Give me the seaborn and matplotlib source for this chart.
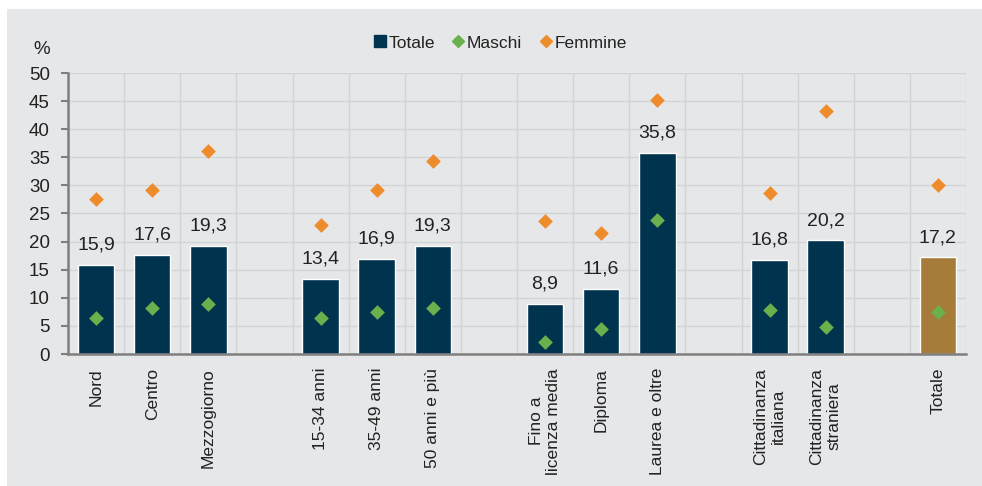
import matplotlib
matplotlib.use("Agg")
import matplotlib.pyplot as plt
import matplotlib.patches as mpatches
from matplotlib.lines import Line2D
import seaborn as sns
import pandas as pd
import numpy as np

# ---- data ----
categories = ["Nord", "Centro", "Mezzogiorno",
              "15-34 anni", "35-49 anni", "50 anni e più",
              "Fino a\nlicenza media", "Diploma", "Laurea e oltre",
              "Cittadinanza\nitaliana", "Cittadinanza\nstraniera",
              "Totale"]
totale = [15.9, 17.6, 19.3, 13.4, 16.9, 19.3, 8.9, 11.6, 35.8, 16.8, 20.2, 17.2]
maschi = [6.4, 8.2, 8.9, 6.4, 7.5, 8.2, 2.1, 4.4, 23.8, 7.8, 4.8, 7.5]
femmine = [27.6, 29.2, 36.1, 23.0, 29.2, 34.3, 23.7, 21.5, 45.2, 28.6, 43.2, 30.1]
groups = [3, 3, 3, 2, 1]  # group sizes, separated by empty slots

# build slot order with gaps
order = []
i = 0
for gi, n in enumerate(groups):
    order.extend(categories[i:i + n])
    i += n
    if gi < len(groups) - 1:
        order.append(" " * (gi + 1))
nslots = len(order)

df = pd.DataFrame({"cat": categories, "Totale": totale,
                   "Maschi": maschi, "Femmine": femmine})

NAVY = "#00334e"
GOLD = "#a57c3a"
GREEN = "#6ab04c"
ORANGE = "#ee8c2c"
BG = "#e6e7e9"

sns.set_style("white")
plt.rcParams["font.family"] = ["Liberation Sans Narrow", "Liberation Sans", "DejaVu Sans"]

fig = plt.figure(figsize=(9.82, 4.86), dpi=100)
fig.patch.set_facecolor("white")
fig.patches.append(mpatches.Rectangle((7 / 982, 0), 1, 1 - 9 / 486,
                                      transform=fig.transFigure,
                                      facecolor=BG, edgecolor="none", zorder=-10))
ax = fig.add_axes([68 / 982, 1 - 354 / 486, (966 - 68) / 982, (354 - 73) / 486])
ax.set_facecolor(BG)

palette = {c: (GOLD if c == "Totale" else NAVY) for c in categories}
sns.barplot(data=df, x="cat", y="Totale", order=order, hue="cat",
            palette=palette, width=0.65, saturation=1, legend=False,
            ax=ax, zorder=2)
sns.stripplot(data=df, x="cat", y="Maschi", order=order, jitter=False,
              marker="D", color=GREEN, size=7.5, linewidth=0, ax=ax, zorder=3)
sns.stripplot(data=df, x="cat", y="Femmine", order=order, jitter=False,
              marker="D", color=ORANGE, size=7.5, linewidth=0, ax=ax, zorder=3)

# data labels
for c, v in zip(categories, totale):
    x = order.index(c)
    ax.annotate(f"{v:.1f}".replace(".", ","), (x, v), xytext=(0, 8),
                textcoords="offset points", ha="center", va="bottom",
                fontsize=14, color="#222222")

ax.set_xlim(-0.5, nslots - 0.5)
ax.set_ylim(0, 50)
ax.set_yticks(np.arange(0, 51, 5))
ax.set_xlabel("")
ax.set_ylabel("")

# x ticks: major at boundaries (marks), minor at centers (labels)
ax.set_xticks(np.arange(-0.5, nslots, 1))
ax.set_xticklabels([])
ax.set_xticks(np.arange(nslots), minor=True)
ax.set_xticklabels(order, minor=True, rotation=90, fontsize=12.5,
                   color="#222222", va="top", ha="center", multialignment="center")
ax.tick_params(axis="x", which="major", length=5, width=1.5, color="#7f7f7f", direction="out")
ax.tick_params(axis="x", which="minor", length=0, pad=10)
ax.tick_params(axis="y", length=5, width=1.5, color="#7f7f7f", labelsize=13.5,
               labelcolor="#222222", pad=8, left=True)

ax.grid(True, which="major", axis="both", color="#d2d3d5", linewidth=1, zorder=0)
ax.set_axisbelow(True)
for s in ["top", "right"]:
    ax.spines[s].set_visible(False)
for s in ["left", "bottom"]:
    ax.spines[s].set_color("#7f7f7f")
    ax.spines[s].set_linewidth(1.8)
    ax.spines[s].set_zorder(4)

fig.text(42 / 982, 1 - 50 / 486, "%", fontsize=13.5, color="#222222", ha="center", va="center")

handles = [
    Line2D([], [], marker="s", linestyle="none", color=NAVY, markersize=9),
    Line2D([], [], marker="D", linestyle="none", color=GREEN, markersize=6),
    Line2D([], [], marker="D", linestyle="none", color=ORANGE, markersize=6),
]
fig.legend(handles, ["Totale", "Maschi", "Femmine"], loc="center",
           bbox_to_anchor=(500 / 982, 1 - 43 / 486), ncol=3, frameon=False,
           fontsize=12.5, handlelength=0.7, handletextpad=0.15, columnspacing=1.0,
           labelcolor="#222222")

fig.savefig("out.png", dpi=100, facecolor=fig.get_facecolor())
